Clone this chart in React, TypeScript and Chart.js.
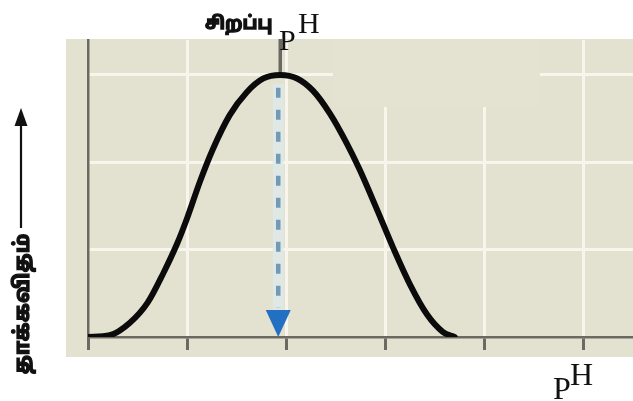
import React, { useEffect, useRef } from "react";
import { Chart, registerables } from "chart.js";

Chart.register(...registerables);

// ---- data ----
const curveX = [0, 0.22, 0.42, 0.6, 0.76, 0.9, 1.0, 1.13, 1.26, 1.43, 1.6, 1.77, 1.94, 2.11, 2.27, 2.44, 2.61, 2.74, 2.92, 3.08, 3.25, 3.42, 3.58, 3.7];
const curveY = [0, 0.02, 0.16, 0.39, 0.73, 1.07, 1.36, 1.78, 2.15, 2.54, 2.8, 2.96, 3.0, 2.96, 2.82, 2.56, 2.22, 1.92, 1.45, 1.02, 0.6, 0.26, 0.06, 0];
const xTicks = [0, 1, 2, 3, 4, 5];
const yTicks = [0, 1, 2, 3];
const optimumPH = 1.93;
const arrowTop = 2.9;
const titleWord = "சிறப்பு";
const yLabel = "தாக்கவிதம்";
const unitP = "P";
const unitH = "H";

const TAMIL = "'Noto Sans Tamil', 'Lohit Tamil', 'Noto Sans', sans-serif";
const SERIF = "'Liberation Serif', 'DejaVu Serif', serif";

function boldText(c: CanvasRenderingContext2D, t: string, x: number, y: number) {
  c.fillText(t, x, y);
  c.lineWidth = 1.3;
  c.strokeStyle = c.fillStyle as string;
  c.strokeText(t, x, y);
}

export default function App() {
  const ref = useRef<HTMLCanvasElement | null>(null);

  useEffect(() => {
    if (!ref.current) return;
    const decor = {
      id: "decor",
      beforeDraw(chart: any) {
        const c = chart.ctx;
        c.save();
        c.fillStyle = "#ffffff";
        c.fillRect(0, 0, chart.width, chart.height);
        c.fillStyle = "#e3e2d0";
        c.fillRect(66, 39, chart.width - 66, 318);
        c.restore();
      },
      beforeDatasetsDraw(chart: any) {
        const c = chart.ctx;
        const xs = chart.scales.x;
        const area = chart.chartArea;
        c.save();
        // faded patch (erased text)
        c.fillStyle = "#e4e3d2";
        c.fillRect(333, area.top - 1, 207, 68);
        // grey stem above peak
        const px = xs.getPixelForValue(optimumPH) + 1;
        c.strokeStyle = "#6a6a62";
        c.lineWidth = 3.5;
        c.beginPath();
        c.moveTo(px, area.top - 1);
        c.lineTo(px, chart.scales.y.getPixelForValue(3.0));
        c.stroke();
        c.restore();
      },
      afterDatasetsDraw(chart: any) {
        const c = chart.ctx;
        const xs = chart.scales.x;
        const ys = chart.scales.y;
        const px = xs.getPixelForValue(optimumPH) - 1;
        const yTop = ys.getPixelForValue(arrowTop);
        const yBase = ys.getPixelForValue(0);
        const triTop = yBase - 27;
        c.save();
        // halo
        c.strokeStyle = "rgba(222,234,234,0.8)";
        c.lineWidth = 11;
        c.beginPath();
        c.moveTo(px, yTop);
        c.lineTo(px, triTop);
        c.stroke();
        // dashes
        c.strokeStyle = "#7299b6";
        c.lineWidth = 4.5;
        c.setLineDash([10, 12]);
        c.beginPath();
        c.moveTo(px, yTop + 4);
        c.lineTo(px, triTop - 2);
        c.stroke();
        c.setLineDash([]);
        // triangle head
        c.fillStyle = "#2370c2";
        c.beginPath();
        c.moveTo(px - 12.5, triTop);
        c.lineTo(px + 12.5, triTop);
        c.lineTo(px, yBase);
        c.closePath();
        c.fill();
        c.restore();
      },
      afterDraw(chart: any) {
        const c = chart.ctx;
        c.save();
        c.fillStyle = "#111111";
        c.textAlign = "left";
        c.textBaseline = "alphabetic";
        // title
        c.font = `bold 18px ${TAMIL}`;
        boldText(c, titleWord, 205, 29);
        c.font = `30px ${SERIF}`;
        c.fillText(unitP, 279, 50);
        c.fillText(unitH, 298, 33);
        // x unit
        c.font = `32px ${SERIF}`;
        c.fillText(unitP, 553, 399);
        c.fillText(unitH, 570, 385);
        // y label
        c.save();
        c.translate(29, 304);
        c.rotate(-Math.PI / 2);
        c.textAlign = "center";
        c.font = `bold 21px ${TAMIL}`;
        boldText(c, yLabel, 0, 0);
        c.restore();
        // y arrow
        c.strokeStyle = "#111111";
        c.lineWidth = 2.2;
        c.beginPath();
        c.moveTo(21, 228);
        c.lineTo(21, 122);
        c.stroke();
        c.beginPath();
        c.moveTo(21, 108);
        c.lineTo(27.5, 126);
        c.lineTo(14.5, 126);
        c.closePath();
        c.fill();
        c.restore();
      },
    };

    const chart = new Chart(ref.current, {
      type: "scatter",
      data: {
        datasets: [
          {
            data: curveX.map((x, i) => ({ x, y: curveY[i] })),
            showLine: true,
            borderColor: "#0b0b0b",
            borderWidth: 6,
            pointRadius: 0,
            cubicInterpolationMode: "monotone",
            borderCapStyle: "round",
            borderJoinStyle: "round",
            fill: false,
          },
        ],
      },
      options: {
        animation: false,
        responsive: false,
        layout: { padding: { left: 88, top: 40, right: 0, bottom: 0 } },
        plugins: { legend: { display: false }, tooltip: { enabled: false }, title: { display: false } },
        scales: {
          x: {
            type: "linear",
            min: 0,
            max: 5.5,
            afterBuildTicks: (s: any) => {
              s.ticks = xTicks.map((v) => ({ value: v }));
            },
            afterFit: (s: any) => {
              s.height = 64;
            },
            ticks: { display: false },
            grid: {
              color: (ctx: any) => (ctx.tick && ctx.tick.value === 0 ? "rgba(0,0,0,0)" : "#f7f5ec"),
              lineWidth: 3,
              drawTicks: true,
              tickLength: 13,
              tickColor: "#6a6a62",
              tickWidth: 3,
            },
            border: { display: true, color: "#6a6a62", width: 2.5 },
          },
          y: {
            type: "linear",
            min: 0,
            max: 3.4,
            afterBuildTicks: (s: any) => {
              s.ticks = yTicks.map((v) => ({ value: v }));
            },
            afterFit: (s: any) => {
              s.width = 0;
            },
            ticks: { display: false },
            grid: {
              color: (ctx: any) => (ctx.tick && ctx.tick.value === 0 ? "rgba(0,0,0,0)" : "#f7f5ec"),
              lineWidth: 3,
              drawTicks: false,
            },
            border: { display: true, color: "#6a6a62", width: 2.5 },
          },
        },
      },
      plugins: [decor],
    });
    return () => chart.destroy();
  }, []);

  return (
    <div style={{ position: "fixed", left: 0, top: 0, width: 633, height: 401, background: "#fff" }}>
      <canvas ref={ref} width={633} height={401} style={{ display: "block" }} />
    </div>
  );
}
